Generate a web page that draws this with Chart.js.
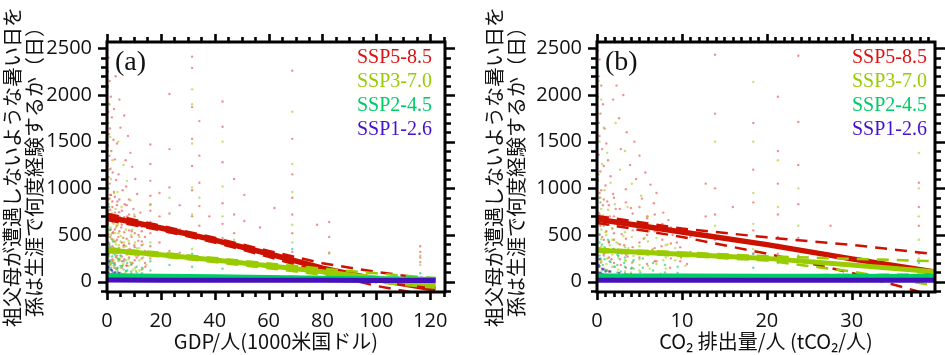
<!DOCTYPE html>
<html><head><meta charset="utf-8">
<script src="https://cdn.jsdelivr.net/npm/chart.js@4/dist/chart.umd.min.js"></script>
<style>
html,body{margin:0;padding:0;background:#fff;}
#wrap{position:relative;width:945px;height:355px;overflow:hidden;background:#fff}
.pane{position:absolute;top:0;height:355px}
</style></head><body>
<div id="wrap">
<div class="pane" style="left:0;width:472px"><canvas id="cA" width="472" height="355" style="width:472px;height:355px"></canvas></div>
<div class="pane" style="left:472px;width:473px"><canvas id="cB" width="473" height="355" style="width:473px;height:355px"></canvas></div>
</div>
<script>
// ---------- data ----------
const scenarios = ['SSP5-8.5', 'SSP3-7.0', 'SSP2-4.5', 'SSP1-2.6'];
const yTicks = [0, 500, 1000, 1500, 2000, 2500];
const xTicksA = [0, 20, 40, 60, 80, 100, 120];
const xTicksB = [0, 10, 20, 30];

// Panel (a): GDP per capita (1000 USD) vs days
const ssp585GdpPts = [[0.2,2480],[0.6,2400],[0.4,2250],[1.0,2150],[0.3,2080],[1.4,1980],[0.8,1900],[0.5,1820],[1.8,1760],[0.2,1700],[1.1,1640],[0.7,1580],[2.4,1520],[0.4,1460],[1.6,1400],[0.9,1350],[2.9,1310],[0.3,1260],[1.3,1210],[2.1,1170],[0.6,1120],[3.4,1090],[1.0,1050],[0.5,1000],[2.6,960],[1.5,930],[0.8,890],[3.9,860],[0.2,830],[2.0,800],[1.2,770],[4.5,745],[0.7,720],[2.8,690],[1.7,660],[0.4,630],[3.6,600],[5.3,580],[1.1,555],[2.3,530],[0.6,505],[4.2,480],[1.9,455],[3.1,430],[0.9,405],[6.1,385],[2.5,360],[1.4,335],[4.8,310],[0.5,290],[3.3,265],[2.0,240],[5.6,220],[1.0,195],[7.3,175],[2.7,150],[0.8,130],[4.0,110],
 [3.2,2200],[4.6,1950],[2.6,1850],[6.4,1780],[5.0,1650],[7.8,1560],[3.7,1480],[8.7,1380],[6.9,1300],[9.4,1230],[4.3,1150],[10.5,1100],[7.1,1020],[5.8,980],[11.2,940],[8.2,880],[6.6,830],[9.8,780],[12.4,740],[7.5,700],[10.9,660],[8.9,620],[13.0,590],[9.2,540],[11.7,500],[6.0,470],[12.9,430],[10.1,390],[8.4,350],[13.8,300],[11.0,260],[9.5,200],[14.2,160],
 [16.1,1470],[16.1,1260],[16.1,1080],[16.1,920],[16.1,830],[16.1,760],[16.1,640],[16.1,520],[16.1,380],[16.1,250],[19.5,950],[19.5,700],[19.5,420],
 [23.2,2010],[23.2,1420],[23.2,1010],[23.2,730],[23.2,560],[23.2,330],[27,820],[27,560],[27,310],
 [31.6,2410],[31.6,2290],[31.6,1870],[31.6,1530],[31.6,1240],[31.6,980],[31.6,700],[31.6,480],[31.6,260],
 [34.3,1720],[34.3,1350],[34.3,1060],[34.3,810],[34.3,600],[38,700],[38,430],
 [42.9,1930],[42.9,1660],[42.9,1280],[42.9,840],[42.9,620],[42.9,470],[47.2,1100],[47.2,720],[47.2,520],
 [51,930],[51,650],[56.8,580],[62.2,790],
 [68.8,2260],[68.8,1530],[68.8,1150],[68.8,900],[68.8,720],[68.8,520],[68.8,320],[78,610],
 [82.5,640],[82.5,480],[82.5,310],[116.3,380],[116.3,320],[116.3,260],[116.3,210]];
const ssp585GdpDense = [[0.4,880],[0.4,610],[0.4,420],[0.4,260],[1.2,930],[1.2,700],[1.2,480],[1.2,310],[1.2,180],
 [2.0,860],[2.0,640],[2.0,520],[2.0,380],[2.0,220],[2.0,90],[2.9,910],[2.9,740],[2.9,560],[2.9,340],[2.9,200],
 [3.7,820],[3.7,660],[3.7,450],[3.7,280],[3.7,140],[4.6,880],[4.6,700],[4.6,540],[4.6,360],[4.6,230],
 [5.5,760],[5.5,610],[5.5,420],[5.5,270],[5.5,150],[6.4,690],[6.4,530],[6.4,390],[6.4,240],
 [7.3,820],[7.3,620],[7.3,460],[7.3,300],[7.3,170],[8.2,720],[8.2,550],[8.2,410],[8.2,260],
 [9.1,640],[9.1,480],[9.1,330],[9.1,190],[10.3,700],[10.3,520],[10.3,370],[10.3,230],
 [11.6,610],[11.6,440],[11.6,280],[12.9,540],[12.9,390],[12.9,250],[12.9,130],[14.1,480],[14.1,330],[14.1,200]];
const ssp370GdpPts = [[0.3,2100],[0.8,1900],[0.5,1700],[1.2,1550],[0.4,1400],[2.0,1300],[0.9,1200],[1.5,1100],[0.2,1020],[2.6,950],[1.1,890],[0.6,830],[3.2,780],[1.8,730],[0.4,690],[2.3,650],[4.0,610],[1.3,580],[0.7,550],[3.0,520],[5.1,490],[1.6,460],[2.8,430],[0.5,410],[4.4,390],[6.2,370],[1.0,350],[3.5,330],[2.1,310],[7.3,290],[0.8,270],[4.9,250],[2.5,230],[8.6,210],[1.4,190],[5.8,170],[3.1,150],[9.7,130],[0.6,110],[6.7,90],[2.2,70],[11.3,60],[4.1,45],
 [4.2,1500],[6.1,1250],[7.4,1080],[3.9,960],[8.8,870],[5.4,800],[10.1,720],[7.0,640],[9.3,560],[12.0,480],[6.3,420],[11.2,360],[13.5,300],[8.0,240],[14.6,180],[10.7,120],
 [16.1,820],[16.1,610],[16.1,420],[16.1,300],[23.2,900],[23.2,520],[23.2,280],
 [31.6,2060],[31.6,1900],[31.6,1480],[31.6,1010],[31.6,720],[31.6,510],[31.6,350],[34.3,900],[34.3,500],
 [42.9,1500],[42.9,1020],[42.9,700],[42.9,400],[47.2,450],[51,380],
 [68.8,1820],[68.8,1260],[68.8,960],[68.8,610],[68.8,420],[68.8,260],[82.5,300],[116.3,280],[116.3,180]];
const ssp370GdpDense = [[0.6,760],[0.6,560],[0.6,380],[0.6,240],[0.6,120],[1.5,680],[1.5,500],[1.5,330],[1.5,200],[1.5,80],
 [2.4,620],[2.4,450],[2.4,300],[2.4,170],[2.4,60],[3.3,580],[3.3,400],[3.3,260],[3.3,140],
 [4.2,520],[4.2,360],[4.2,220],[4.2,100],[5.1,640],[5.1,430],[5.1,280],[5.1,150],[6.0,470],[6.0,320],[6.0,190],[6.0,80],
 [7.0,560],[7.0,380],[7.0,230],[7.0,110],[8.0,440],[8.0,300],[8.0,170],[9.0,500],[9.0,340],[9.0,200],[9.0,90],
 [10.4,420],[10.4,280],[10.4,150],[12.0,360],[12.0,230],[12.0,120],[13.4,400],[13.4,260],[13.4,140]];
const ssp245GdpPts = [[0.3,1000],[0.8,800],[0.5,650],[1.4,560],[0.2,480],[2.2,430],[1.0,380],[3.1,340],[0.6,300],[1.9,270],[4.3,240],[0.9,210],[2.7,190],[5.6,170],[1.5,150],[3.6,130],[7.1,115],[0.4,100],[2.4,90],[8.8,80],[4.8,75],[1.2,70],[10.5,65],[6.0,60],[3.3,55],
 [16.1,220],[16.1,120],[23.2,180],[31.6,300],[31.6,160],[42.9,140],[68.8,350],[68.8,240],[68.8,150],[116.3,90],
 [0.5,420],[0.5,280],[0.5,160],[0.5,90],[1.3,360],[1.3,230],[1.3,130],[2.1,320],[2.1,200],[2.1,110],[3.0,290],[3.0,180],[3.0,100],
 [4.0,250],[4.0,150],[4.0,90],[5.0,280],[5.0,170],[5.0,95],[6.2,220],[6.2,130],[7.5,200],[7.5,120],[9.0,180],[9.0,110],[11.0,160],[11.0,100],[13.0,150],[13.0,90]];
const ssp126GdpPts = [[0.3,300],[0.8,220],[0.5,160],[1.6,130],[0.4,100],[2.5,80],[1.1,60],[3.8,50],[0.7,40],[5.2,35],[2.0,30],[7.5,25],[31.6,60],[68.8,50],[42.9,40],
 [0.6,150],[0.6,90],[0.6,60],[1.8,120],[1.8,70],[1.8,45],[3.0,100],[3.0,55],[4.5,90],[4.5,50],[6.0,75],[6.0,40],[8.0,65],[8.0,35],[10.5,55]];

const gdpFitX = [0, 20, 40, 60, 80, 100, 122];
const ssp585GdpFit = [695, 575, 445, 300, 145, 25, -80];
const ssp585GdpUp  = [728, 600, 470, 330, 198, 105, 20];
const ssp585GdpLo  = [662, 550, 420, 268, 98, -45, -160];
const ssp370GdpFit = [340, 290, 232, 170, 107, 40, -35];
const ssp370GdpUp  = [358, 310, 255, 195, 140, 90, 36];
const ssp370GdpLo  = [322, 272, 210, 145, 75, -5, -65];
const ssp245GdpFit = [65, 58, 52, 45, 38, 32, 25];
const ssp245GdpUp  = [72, 64, 58, 53, 48, 44, 40];
const ssp245GdpLo  = [58, 52, 46, 37, 28, 20, 10];
const ssp126GdpFit = [18, 17, 16, 15, 15, 14, 14];

// Panel (b): CO2 emissions per capita (tCO2) vs days
const ssp585Co2Pts = [[0.1,2470],[0.3,2380],[0.2,2200],[0.5,2100],[0.1,1980],[0.7,1900],[0.4,1800],[0.2,1700],[0.9,1640],[0.3,1560],[1.1,1480],[0.6,1420],[0.2,1360],[1.3,1300],[0.8,1240],[0.4,1180],[1.6,1130],[0.1,1080],[1.0,1030],[0.5,980],[1.9,940],[0.3,900],[1.2,860],[0.7,820],[2.2,780],[0.2,740],[1.5,700],[0.9,660],[2.5,630],[0.4,600],[1.8,570],[1.1,540],[2.9,510],[0.6,480],[2.0,450],[1.4,420],[3.2,390],[0.3,360],[2.4,330],[0.8,300],[3.6,270],[1.7,240],[0.5,210],[2.8,180],[4.1,150],[1.2,120],
 [2.3,2100],[1.9,1950],[3.1,2000],[2.6,1750],[3.5,1600],[4.4,1500],[2.8,1420],[5.0,1350],[3.9,1250],[5.7,1170],[4.6,1100],[6.3,1040],[3.4,990],[7.0,950],[5.3,890],[6.7,840],[4.0,790],[7.8,740],[5.9,700],[8.4,660],[4.8,620],[7.3,580],[6.1,540],[8.9,500],[5.5,460],[9.4,420],[7.6,380],[6.5,340],[8.2,300],[9.9,260],[7.0,220],[10.6,190],[8.6,150],
 [12.8,1050],[12.8,700],[13.9,2430],[13.9,1800],[13.9,1000],[13.9,720],[13.9,450],[16.0,800],
 [18.4,1700],[18.4,1200],[18.4,850],[18.4,550],[18.4,300],[21.3,1980],[21.3,1400],[21.3,1050],[21.3,720],[21.3,480],[21.3,300],
 [23.7,2420],[23.7,1710],[23.7,1250],[23.7,830],[23.7,470],[23.7,280],[27.5,600],[37.9,1060],[37.9,800],[37.9,600],[37.9,300]];
const ssp585Co2Dense = [[0.3,950],[0.3,720],[0.3,500],[0.3,320],[0.3,170],[0.8,880],[0.8,660],[0.8,450],[0.8,280],[0.8,140],
 [1.4,820],[1.4,610],[1.4,430],[1.4,260],[1.4,110],[2.0,900],[2.0,700],[2.0,520],[2.0,350],[2.0,200],
 [2.7,780],[2.7,590],[2.7,400],[2.7,240],[3.4,850],[3.4,640],[3.4,460],[3.4,290],[3.4,150],
 [4.2,730],[4.2,550],[4.2,370],[4.2,210],[5.0,800],[5.0,600],[5.0,420],[5.0,260],[5.9,680],[5.9,500],[5.9,330],[5.9,190],
 [6.8,720],[6.8,540],[6.8,360],[6.8,220],[7.7,620],[7.7,450],[7.7,290],[8.7,580],[8.7,410],[8.7,250],
 [9.8,530],[9.8,370],[9.8,220],[11.0,480],[11.0,320]];
const ssp370Co2Pts = [[0.2,2150],[0.5,1950],[0.1,1800],[0.8,1650],[0.3,1500],[1.2,1380],[0.6,1260],[0.2,1150],[1.6,1060],[0.9,980],[0.4,900],[2.1,830],[1.3,770],[0.7,710],[2.6,660],[0.3,610],[1.8,570],[1.0,530],[3.1,490],[0.5,455],[2.3,420],[1.5,390],[3.7,360],[0.8,330],[2.9,300],[4.3,275],[1.2,250],[3.4,225],[0.4,200],[5.0,180],[2.0,160],[6.2,140],[1.1,120],[4.0,100],[7.5,85],[2.7,70],
 [2.2,1700],[3.3,1400],[2.7,1200],[4.1,1050],[5.2,920],[3.6,800],[6.0,700],[4.7,620],[7.1,540],[5.6,470],[8.3,400],[6.6,350],[9.0,290],[7.8,230],[10.4,170],
 [13.9,1500],[13.9,600],[18.4,2140],[18.4,1500],[18.4,950],[18.4,620],[18.4,350],[21.3,1300],[21.3,800],[21.3,400],[23.7,1000],[23.7,600],
 [37.9,1380],[37.9,1000],[37.9,700],[37.9,450],[37.9,250]];
const ssp370Co2Dense = [[0.5,780],[0.5,560],[0.5,380],[0.5,230],[0.5,110],[1.1,700],[1.1,500],[1.1,330],[1.1,190],[1.1,80],
 [1.8,640],[1.8,450],[1.8,290],[1.8,160],[2.5,590],[2.5,410],[2.5,260],[2.5,130],[3.3,530],[3.3,370],[3.3,230],[3.3,110],
 [4.1,480],[4.1,330],[4.1,200],[5.0,560],[5.0,380],[5.0,240],[5.0,120],[6.0,430],[6.0,290],[6.0,170],
 [7.0,470],[7.0,320],[7.0,190],[8.1,390],[8.1,260],[8.1,140],[9.2,360],[9.2,230]];
const ssp245Co2Pts = [[0.1,1100],[0.4,850],[0.2,700],[0.8,600],[0.3,510],[1.3,450],[0.6,400],[1.9,350],[0.9,310],[2.5,280],[0.4,250],[1.5,220],[3.2,200],[0.7,180],[2.1,160],[4.0,140],[1.1,125],[2.8,110],[5.1,100],[0.5,90],[3.6,80],[6.4,75],[1.7,70],[7.7,65],
 [18.4,300],[18.4,150],[21.3,200],[23.7,250],[37.9,200],[37.9,120],
 [0.3,420],[0.3,280],[0.3,160],[0.3,90],[0.9,370],[0.9,240],[0.9,130],[1.6,330],[1.6,210],[1.6,110],[2.4,290],[2.4,180],[2.4,100],
 [3.3,260],[3.3,160],[3.3,90],[4.3,230],[4.3,140],[5.4,250],[5.4,150],[6.6,200],[6.6,120],[8.0,180],[8.0,100],[9.5,160],[9.5,95]];
const ssp126Co2Pts = [[0.1,320],[0.3,240],[0.2,180],[0.6,140],[1.0,110],[0.4,90],[1.6,70],[2.4,55],[0.8,45],[3.5,40],[1.3,35],[5.0,30],[18.4,60],[23.7,50],
 [0.2,160],[0.2,100],[0.2,60],[0.7,130],[0.7,80],[0.7,45],[1.5,110],[1.5,60],[2.6,95],[2.6,50],[4.0,80],[4.0,40],[5.6,65],[5.6,35],[7.5,55]];

const co2FitX = [0, 10, 20, 30, 40];
const ssp585Co2Fit = [668, 532, 397, 245, 100];
const ssp585Co2Up  = [705, 570, 475, 395, 292];
const ssp585Co2Lo  = [630, 480, 300, 95, -160];
const ssp370Co2Fit = [337, 295, 250, 180, 105];
const ssp370Co2Up  = [352, 314, 272, 245, 220];
const ssp370Co2Lo  = [322, 278, 226, 110, -45];
const ssp245Co2Fit = [60, 60, 59, 58, 57];
const ssp245Co2Up  = [66, 67, 68, 72, 76];
const ssp245Co2Lo  = [54, 53, 50, 44, 38];
const ssp126Co2Fit = [16, 16, 15, 15, 15];

// ---------- styles ----------
const lineCol = ['#cc1100', '#99cc00', '#00cc66', '#4411bb'];
const textCol = ['#dd1111', '#99cc00', '#00cc66', '#4411cc'];
const dotCol = ['rgba(235,70,70,0.6)', 'rgba(165,210,30,0.65)', 'rgba(30,200,130,0.65)', 'rgba(70,30,200,0.65)'];
const CJK = '"Noto Sans CJK JP", "Noto Sans", sans-serif';
const NUM = '"Open Sans", "Noto Sans", sans-serif';

function pts(arr) { return arr.map(p => ({x: p[0], y: p[1]})); }
function fit(xs, ys) { return xs.map((x, i) => ({x: x, y: ys[i]})); }
function fixedTicks(list) { return s => { s.ticks = list.map(v => ({value: v})); }; }

const framePlugin = {
  id: 'frame',
  afterDatasetsDraw(chart, args, o) {
    const {ctx, chartArea: a, scales: {x, y}} = chart;
    ctx.save();
    ctx.strokeStyle = '#000';
    ctx.lineCap = 'butt';
    ctx.lineWidth = 2.6;
    ctx.beginPath();
    for (let v = o.xStart; v <= o.xMax + 1e-9; v += o.xMinor) {
      const px = Math.round(x.getPixelForValue(v)) + 0.5;
      const major = Math.abs(v / o.xMajor - Math.round(v / o.xMajor)) < 1e-6;
      const L = major ? 8 : 5;
      ctx.moveTo(px, a.bottom); ctx.lineTo(px, a.bottom + L);
      ctx.moveTo(px, a.top); ctx.lineTo(px, a.top - L);
    }
    for (let v = o.yStart; v <= o.yMax + 1e-9; v += o.yMinor) {
      const py = Math.round(y.getPixelForValue(v)) + 0.5;
      const major = Math.abs(v / o.yMajor - Math.round(v / o.yMajor)) < 1e-6;
      ctx.moveTo(a.left, py); ctx.lineTo(a.left - (major ? 9 : 6), py);
      ctx.moveTo(a.right, py); ctx.lineTo(a.right + (major ? 10 : 6), py);
    }
    ctx.stroke();
    ctx.lineWidth = 3;
    ctx.strokeRect(a.left, a.top, a.right - a.left, a.bottom - a.top);
    // panel letter
    ctx.fillStyle = '#111';
    ctx.font = '28px "Liberation Serif", "Times New Roman", serif';
    ctx.textBaseline = 'middle';
    ctx.textAlign = 'left';
    ctx.fillText(o.letter, a.left + 8, a.top + 21);
    // legend
    ctx.font = '20px "Liberation Serif", "Times New Roman", serif';
    ctx.textAlign = 'right';
    scenarios.forEach((s, i) => {
      ctx.fillStyle = textCol[i];
      ctx.fillText(s, a.right - o.legendInset, a.top + 16 + i * 24);
    });
    ctx.restore();
  }
};

function makePanel(id, cfg) {
  const datasets = [];
  const dash = {borderWidth: 2.5, borderDash: [12, 8]};
  // regression lines (earlier datasets are drawn on top)
  for (let i = 3; i >= 0; i--) {
    if (cfg.bands[i]) {
      datasets.push(Object.assign({type: 'line', data: fit(cfg.fx, cfg.bands[i][0]), borderColor: lineCol[i]}, dash));
      datasets.push(Object.assign({type: 'line', data: fit(cfg.fx, cfg.bands[i][1]), borderColor: lineCol[i]}, dash));
    }
    datasets.push({type: 'line', data: fit(cfg.fx, cfg.fits[i]), borderColor: lineCol[i], borderWidth: i === 0 ? 5.5 : 5});
  }
  // scatter clouds
  for (let i = 3; i >= 0; i--) {
    datasets.push({type: 'scatter', data: pts(cfg.pts[i]), backgroundColor: dotCol[i], borderWidth: 0, pointRadius: 1.2});
  }
  datasets.forEach(d => { if (d.type === 'line') { d.pointRadius = 0; d.fill = false; d.tension = 0; } });

  return new Chart(document.getElementById(id), {
    data: {datasets},
    plugins: [framePlugin],
    options: {
      responsive: false,
      animation: false,
      events: [],
      layout: {padding: {left: cfg.padLeft, top: 42, right: cfg.padRight, bottom: 0}},
      plugins: {legend: {display: false}, tooltip: {enabled: false}, frame: cfg.frame},
      scales: {
        x: {
          type: 'linear', min: 0, max: cfg.xMax,
          afterBuildTicks: fixedTicks(cfg.xTicks),
          afterFit: s => { s.height = 63; },
          grid: {display: false, drawTicks: false},
          border: {display: false},
          ticks: {autoSkip: false, padding: 17, color: '#111', font: {family: NUM, size: 20}, callback: v => String(v)},
          title: {display: true, text: cfg.xTitle, color: '#111', font: {family: CJK, size: 20}, padding: {top: 0, bottom: 2}}
        },
        y: {
          type: 'linear', min: -110, max: 2567,
          afterBuildTicks: fixedTicks(yTicks),
          afterFit: s => { s.width = cfg.yWidth; },
          grid: {display: false, drawTicks: false},
          border: {display: false},
          ticks: {autoSkip: false, padding: 15, color: '#111', font: {family: NUM, size: 20}, callback: v => String(v)},
          title: {display: true, text: ['祖父母が遭遇しないような暑い日を', '孫は生涯で何度経験するか（日）'],
                  color: '#111', font: {family: CJK, size: 20, lineHeight: 1.1}, padding: {top: 1, bottom: 0}}
        }
      }
    }
  });
}

makePanel('cA', {
  xMax: 125.5, xTicks: xTicksA, padLeft: 0, yWidth: 107, padRight: 27,
  xTitle: 'GDP/人(1000米国ドル)',
  pts: [ssp585GdpPts.concat(ssp585GdpDense), ssp370GdpPts.concat(ssp370GdpDense), ssp245GdpPts, ssp126GdpPts],
  fx: gdpFitX,
  fits: [ssp585GdpFit, ssp370GdpFit, ssp245GdpFit, ssp126GdpFit],
  bands: [[ssp585GdpUp, ssp585GdpLo], [ssp370GdpUp, ssp370GdpLo], [ssp245GdpUp, ssp245GdpLo], null],
  frame: {letter: '(a)', legendInset: 13, xStart: 0, xMax: 125, xMinor: 5, xMajor: 20, yStart: -100, yMax: 2567, yMinor: 100, yMajor: 500}
});
makePanel('cB', {
  xMax: 39.8, xTicks: xTicksB, padLeft: 10, yWidth: 115, padRight: 10,
  xTitle: 'CO₂ 排出量/人 (tCO₂/人)',
  pts: [ssp585Co2Pts.concat(ssp585Co2Dense), ssp370Co2Pts.concat(ssp370Co2Dense), ssp245Co2Pts, ssp126Co2Pts],
  fx: co2FitX,
  fits: [ssp585Co2Fit, ssp370Co2Fit, ssp245Co2Fit, ssp126Co2Fit],
  bands: [[ssp585Co2Up, ssp585Co2Lo], [ssp370Co2Up, ssp370Co2Lo], [ssp245Co2Up, ssp245Co2Lo], null],
  frame: {letter: '(b)', legendInset: 8, xStart: 0, xMax: 39.8, xMinor: 1, xMajor: 10, yStart: -100, yMax: 2567, yMinor: 100, yMajor: 500}
});
</script>
</body></html>
